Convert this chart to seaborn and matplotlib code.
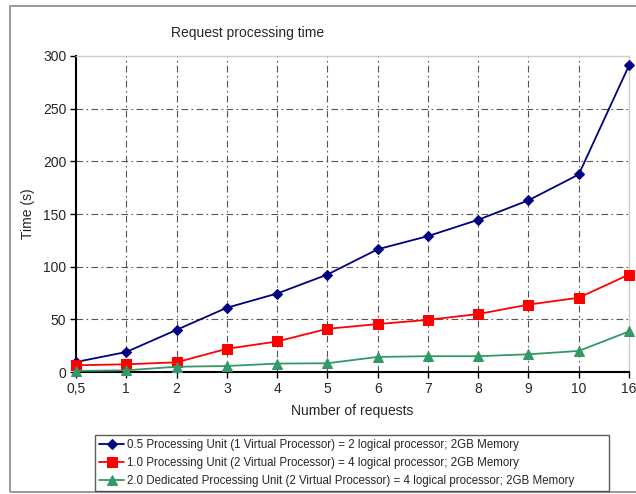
import numpy as np
import pandas as pd
import matplotlib
matplotlib.use('Agg')
import matplotlib.pyplot as plt
import seaborn as sns
from matplotlib.patches import Rectangle

# Request processing time per number of requests
requests = ['0,5', '1', '2', '3', '4', '5', '6', '7', '8', '9', '10', '16']
time_05 = [9.5, 19, 40, 61, 74.5, 92.5, 116.5, 129, 144.5, 163, 187.5, 291]
time_10 = [6.4, 7.3, 9.2, 22, 29, 41, 45.5, 49.5, 55, 64, 70.5, 92.5]
time_20 = [1, 1.6, 5, 5.7, 8, 8.3, 14.3, 15, 15, 16.8, 20, 38.5]

labels = ['0.5 Processing Unit (1 Virtual Processor) = 2 logical processor; 2GB Memory',
          '1.0 Processing Unit (2 Virtual Processor) = 4 logical processor; 2GB Memory',
          '2.0 Dedicated Processing Unit (2 Virtual Processor) = 4 logical processor; 2GB Memory']
colors = ['#000080', '#FF0000', '#339966']
markers = ['D', 's', '^']
msizes = [5, 6.5, 6.5]

sns.set_style('white')
plt.rcParams['font.family'] = ['Liberation Sans', 'DejaVu Sans']

W, H = 636, 494
fig = plt.figure(figsize=(W / 100, H / 100), dpi=100)
ax = fig.add_axes([76 / W, (H - 372) / H, 553 / W, 316 / H])

pos = np.arange(len(requests))
for vals, lab, c, m, ms in zip([time_05, time_10, time_20], labels, colors, markers, msizes):
    df = pd.DataFrame({'pos': pos, 'time': vals})
    sns.lineplot(data=df, x='pos', y='time', ax=ax, color=c, marker=m,
                 markersize=ms, markeredgecolor=c, linewidth=1.3, label=lab,
                 clip_on=False, zorder=3)

ax.set_xlim(0, len(requests) - 1)
ax.set_ylim(0, 300)
ax.set_xticks(pos)
ax.set_xticklabels(requests)
ax.set_yticks(np.arange(0, 301, 50))
ax.tick_params(axis='both', labelsize=10, direction='out', length=4, width=1,
               color='black', pad=3, bottom=True, left=True)

# dash-dot grid on interior lines
for y in range(50, 300, 50):
    ax.axhline(y, color='#555555', lw=0.8, dashes=(6, 3, 1.5, 3), zorder=0)
for x in pos[1:-1]:
    ax.axvline(x, color='#555555', lw=0.8, dashes=(6, 3, 1.5, 3), zorder=0)

for s in ['left', 'bottom']:
    ax.spines[s].set_color('black')
    ax.spines[s].set_linewidth(1.5)
for s in ['top', 'right']:
    ax.spines[s].set_color('#cccccc')
    ax.spines[s].set_linewidth(1)

ax.set_xlabel('Number of requests', fontsize=10, labelpad=6)
ax.set_ylabel('Time (s)', fontsize=10, labelpad=6)
fig.text(248 / W, 1 - 33 / H, 'Request processing time', ha='center', va='center', fontsize=10)

ax.get_legend().remove()
handles, labs = ax.get_legend_handles_labels()
leg = fig.legend(handles, labs, loc='lower left',
                 bbox_to_anchor=(95 / W, 3 / H, 514 / W, 58 / H), mode='expand',
                 fontsize=8.3, frameon=True, fancybox=False, borderaxespad=0,
                 handlelength=2.2, handletextpad=0.2, labelspacing=0.5,
                 borderpad=0.35)
leg.get_frame().set_edgecolor('#333333')
leg.get_frame().set_linewidth(1)

# outer chart frame
fig.patches.append(Rectangle((10 / W, 2 / H), 1.0, 1 - 8 / H, transform=fig.transFigure,
                             fill=False, edgecolor='#888888', lw=1.2))

fig.savefig('out.png', dpi=100)
